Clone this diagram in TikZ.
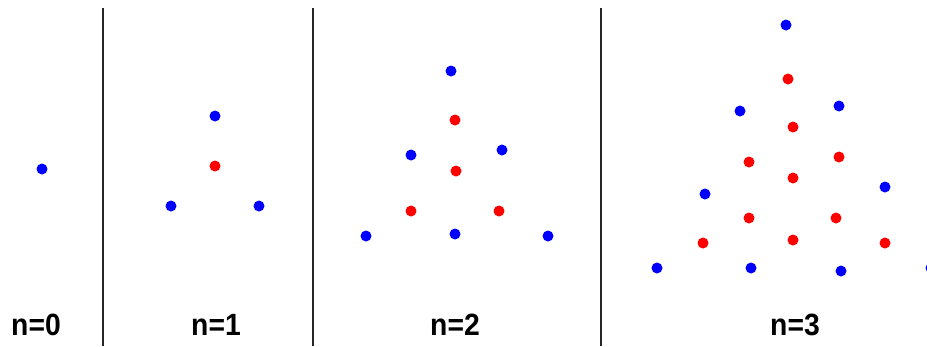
\documentclass[tikz,border=0pt]{standalone}
\usepackage{fontspec}
\setmainfont{Liberation Sans}
\newcommand{\narrow}[1]{\scalebox{0.92}[1]{#1}}
\begin{document}
\begin{tikzpicture}[x=0.02cm,y=-0.02cm]
    \tikzset{
        bluedot/.style={circle, fill=blue, inner sep=0, minimum size=0.22cm},
        reddot/.style={circle, fill=red, inner sep=0, minimum size=0.22cm},
        divider/.style={draw=black!85, line width=1.1pt},
        caption/.style={anchor=base, inner sep=0, font=\fontsize{17.5}{20}\selectfont\bfseries}
    }
    \useasboundingbox (0,0) rectangle (927,346);
    % dividers
    \foreach \x in {103,313,601}
    {
        \draw[divider] (\x,8) -- (\x,346);
    }
    % n=0 and n=1
    \foreach \n/\x/\y in {%
        a/42/169, b/215/116, c/171/206, d/259/206%
    }
    {
        \node[bluedot] (\n) at (\x,\y) {};
    }
    \node[reddot] (e) at (215,166) {};
    % n=2
    \foreach \n/\x/\y in {%
        f/451/71, g/411/155, h/502/150, i/366/236, j/455/234, k/548/236%
    }
    {
        \node[bluedot] (\n) at (\x,\y) {};
    }
    \foreach \n/\x/\y in {%
        l/455/120, m/456/171, o/411/211, p/499/211%
    }
    {
        \node[reddot] (\n) at (\x,\y) {};
    }
    % n=3
    \foreach \n/\x/\y in {%
        q/786/25, r/740/111, s/839/106, t/705/194, u/885/187,
        v/657/268, w/751/268, x/841/271, y/931/268%
    }
    {
        \node[bluedot] (\n) at (\x,\y) {};
    }
    \foreach \n/\x/\y in {%
        r1/788/79, r2/793/127, r3/749/162, r4/839/157, r5/793/178,
        r6/749/218, r7/836/218, r8/703/243, r9/793/240, r10/885/243%
    }
    {
        \node[reddot] (\n) at (\x,\y) {};
    }
    % captions
    \node[caption] (n0) at (36,335) {\narrow{n=0}};
    \node[caption] (n1) at (216,335) {\narrow{n=1}};
    \node[caption] (n2) at (455,335) {\narrow{n=2}};
    \node[caption] (n3) at (795,335) {\narrow{n=3}};
\end{tikzpicture}
\end{document}
